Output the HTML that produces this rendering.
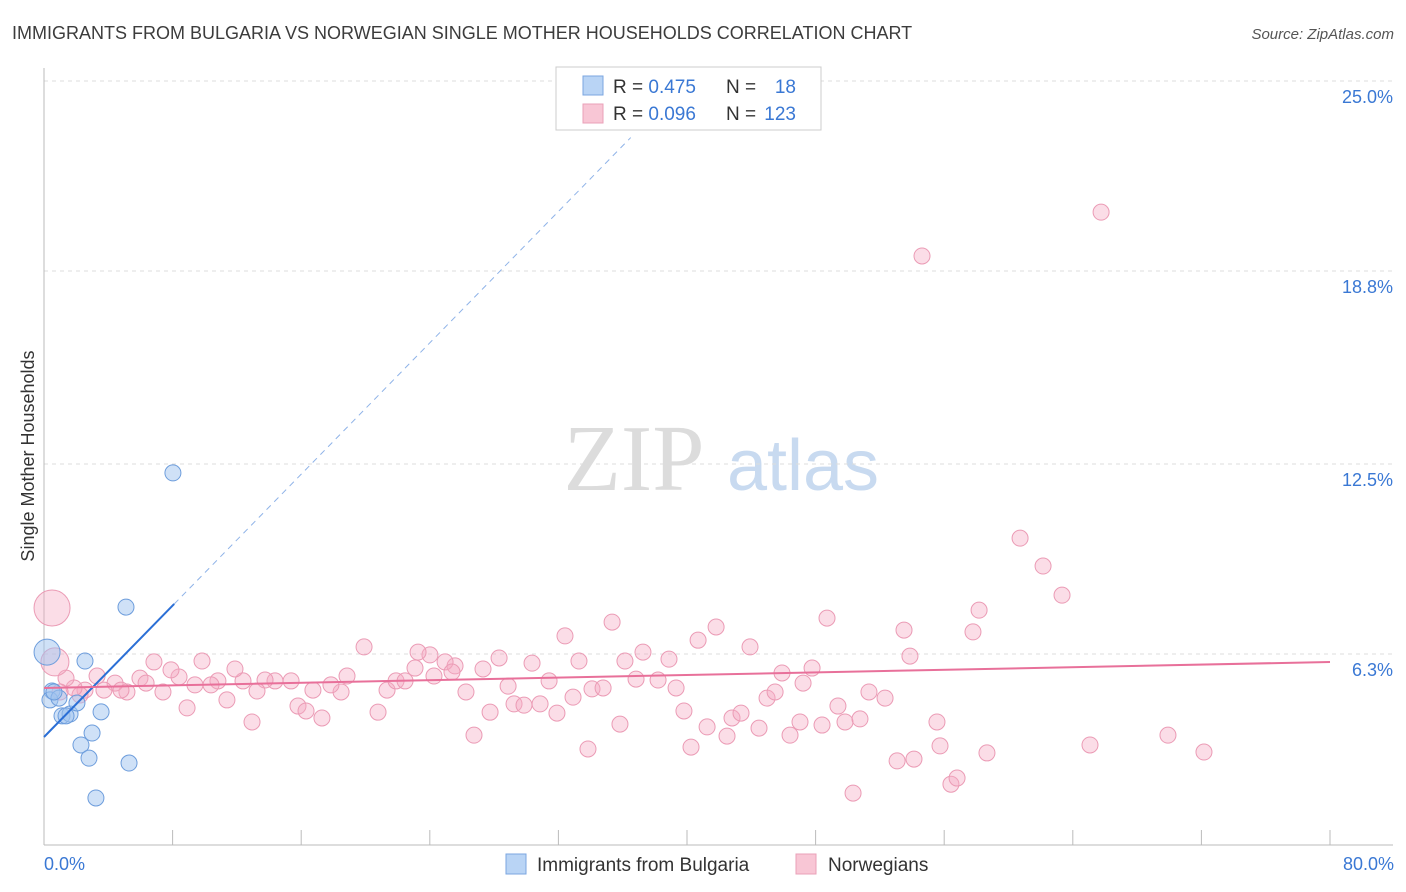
<!DOCTYPE html>
<html><head><meta charset="utf-8"><style>
body{margin:0;background:#fff;font-family:"Liberation Sans",sans-serif;}
svg{display:block}
</style></head><body>
<svg id="chart" width="1406" height="892" xmlns="http://www.w3.org/2000/svg">
<text x="12" y="39" font-size="18" fill="#3c3c3c" font-family="Liberation Sans, sans-serif">IMMIGRANTS FROM BULGARIA VS NORWEGIAN SINGLE MOTHER HOUSEHOLDS CORRELATION CHART</text>
<text x="1394" y="39" font-size="15" fill="#555" font-style="italic" text-anchor="end">Source: ZipAtlas.com</text>
<g>
<text x="634" y="490" font-size="94" fill="#dcdcdc" font-family="Liberation Serif, serif" text-anchor="middle">ZIP</text>
<text x="803" y="490" font-size="72" fill="#c8daf0" text-anchor="middle">atlas</text>
</g>
<g id="grid"></g>
<g id="axes"></g>
<g id="pinkPts"></g>
<g id="bluePts"></g>
<g id="lines"></g>
<text transform="translate(34,456) rotate(-90)" font-size="18" fill="#333" text-anchor="middle">Single Mother Households</text>
<text x="44" y="870" font-size="18" fill="#3a78d4">0.0%</text>
<text x="1394" y="870" font-size="18" fill="#3a78d4" text-anchor="end">80.0%</text>
<g>
<rect x="556" y="67" width="265" height="63" fill="#fff" stroke="#ccc"/>
<rect x="583" y="76" width="20" height="19" fill="#b9d4f5" stroke="#7ba6e0"/>
<text x="613" y="93" font-size="19" fill="#333">R = <tspan fill="#3a78d4">0.475</tspan></text>
<text x="726" y="93" font-size="19" fill="#333">N = </text>
<text x="796" y="93" font-size="19" fill="#3a78d4" text-anchor="end">18</text>
<rect x="583" y="104" width="20" height="19" fill="#f8c6d5" stroke="#eaa0b8"/>
<text x="613" y="120" font-size="19" fill="#333">R = <tspan fill="#3a78d4">0.096</tspan></text>
<text x="726" y="120" font-size="19" fill="#333">N = </text>
<text x="796" y="120" font-size="19" fill="#3a78d4" text-anchor="end">123</text>
</g>
<g>
<rect x="506" y="854" width="20" height="20" fill="#b9d4f5" stroke="#7ba6e0"/>
<text x="537" y="871" font-size="19" fill="#333">Immigrants from Bulgaria</text>
</g>
<g>
<rect x="796" y="854" width="20" height="20" fill="#f8c6d5" stroke="#eaa0b8"/>
<text x="828" y="871" font-size="19" fill="#333">Norwegians</text>
</g>
</svg>
<script>
const yTicks=[25.0,18.8,12.5,6.3];
const yTickLabels=["25.0%","18.8%","12.5%","6.3%"];
const xTicks=[0,8,16,24,32,40,48,56,64,72,80];
const blueX=[0.19,0.5,0.37,0.93,1.12,1.62,1.37,2.05,2.55,3.55,2.3,2.99,2.8,5.29,3.23,5.1,8.02,0.62];
const blueY=[6.36,5.09,4.8,4.86,4.28,4.34,4.28,4.7,6.07,4.41,3.33,3.72,2.9,2.74,1.6,7.83,12.21,5.06];
const pinkX=[65.76,54.62,60.72,62.15,63.33,58.17,57.79,53.5,53.87,48.71,43.92,41.81,40.69,35.34,32.41,37.26,38.88,36.14,33.28,30.36,28.31,27.31,25.57,24.01,23.27,23.08,24.95,25.38,19.91,18.85,18.48,17.85,16.73,15.37,14.37,13.75,13.25,12.38,11.88,10.82,10.39,9.83,9.39,8.4,7.9,6.84,7.4,5.97,6.35,5.16,4.42,4.79,3.73,3.3,2.55,2.24,1.87,1.37,1.0,8.9,11.38,12.94,15.8,16.3,17.29,20.78,21.34,21.9,22.46,24.26,26.25,27.75,28.87,29.24,29.86,30.86,31.42,31.91,32.91,34.09,34.78,35.83,36.83,38.2,39.32,39.81,40.25,41.25,42.49,42.8,43.36,44.48,44.98,45.48,45.91,47.22,47.78,46.41,47.03,48.4,49.39,49.83,50.76,51.32,52.32,53.07,54.12,55.55,55.74,56.42,56.8,58.66,65.07,69.92,72.16,50.33,33.84,26.75,0.5,0.68];
const pinkY=[20.72,19.29,10.08,9.17,8.22,7.73,7.02,7.08,6.23,7.47,6.53,7.18,6.75,7.34,6.89,6.36,6.13,6.07,6.07,6.0,6.17,5.81,5.91,6.27,6.36,5.84,6.04,5.71,6.53,5.58,5.06,5.29,5.12,5.42,5.42,5.45,5.09,5.42,5.81,5.42,5.29,6.07,5.29,5.55,5.78,6.04,5.06,5.51,5.35,5.06,5.35,5.12,5.12,5.58,5.12,4.96,5.19,5.51,5.06,4.54,4.8,4.08,4.6,4.44,4.21,4.4,5.12,5.42,5.42,5.58,5.06,4.4,5.25,4.67,4.63,4.67,5.42,4.37,4.89,5.16,5.19,4.01,5.48,5.45,5.19,4.44,3.26,3.92,3.62,4.21,4.37,3.88,4.86,5.06,5.68,5.35,5.84,3.65,4.08,3.98,4.6,4.08,4.18,5.06,4.86,2.81,2.87,4.08,3.3,2.05,2.25,3.07,3.33,3.65,3.1,1.76,3.2,3.65,7.8,6.04];
const pinkR=pinkX.map((_,i)=>i===pinkX.length-2?18:(i===pinkX.length-1?14:8));
const blueTrend=[3.59,0.536];
const pinkTrend=[5.19,0.0106];
const NS="http://www.w3.org/2000/svg";
function sx(v){return 44+v*(1286/80);}
function sy(v){return 81+(25-v)*30.64;}
function mk(tag,attrs,parent){const e=document.createElementNS(NS,tag);for(const k in attrs)e.setAttribute(k,attrs[k]);parent.appendChild(e);return e;}
const grid=document.getElementById('grid');
yTicks.forEach((t,i)=>{
 const l=mk('line',{x1:44,x2:1393,y1:sy(t),y2:sy(t),stroke:'#ddd','stroke-dasharray':'4,4'},grid);
 
 
 const tx=mk('text',{x:1393,y:sy(t)+22,'font-size':18,fill:'#3a78d4','text-anchor':'end'},grid);
 tx.textContent=yTickLabels[i];
 
 
});
const axes=document.getElementById('axes');
const ya=mk('line',{x1:44,x2:44,y1:68,y2:845,stroke:'#bbb'},axes);


const xa=mk('line',{x1:44,x2:1393,y1:845,y2:845,stroke:'#bbb'},axes);


xTicks.forEach(t=>{
 const l=mk('line',{x1:sx(t),x2:sx(t),y1:830,y2:845,stroke:'#bbb'},axes);
 
 
});
const pg=document.getElementById('pinkPts');
pinkX.forEach((x,i)=>{
 const c=mk('circle',{cx:sx(x),cy:sy(pinkY[i]),r:pinkR[i],fill:'rgba(246,170,195,0.4)',stroke:'#eb9bb5','stroke-width':1},pg);
 
 
});
const bg=document.getElementById('bluePts');
blueX.forEach((x,i)=>{
 const c=mk('circle',{cx:sx(x),cy:sy(blueY[i]),r:i===0?13:8,fill:'rgba(160,196,240,0.5)',stroke:'#6d9ddc','stroke-width':1},bg);
 
 
});
const lg=document.getElementById('lines');
const b1=mk('line',{x1:sx(0),y1:sy(blueTrend[0]),x2:sx(8.1),y2:sy(blueTrend[0]+blueTrend[1]*8.1),stroke:'#2b6fd6','stroke-width':2},lg);


const b2=mk('line',{x1:sx(8.1),y1:sy(blueTrend[0]+blueTrend[1]*8.1),x2:sx(36.5),y2:sy(blueTrend[0]+blueTrend[1]*36.5),stroke:'#8fb3e8','stroke-width':1,'stroke-dasharray':'6,5'},lg);


const p1=mk('line',{x1:sx(0),y1:sy(pinkTrend[0]),x2:sx(80),y2:sy(pinkTrend[0]+pinkTrend[1]*80),stroke:'#e8709a','stroke-width':2},lg);


</script>
</body></html>
